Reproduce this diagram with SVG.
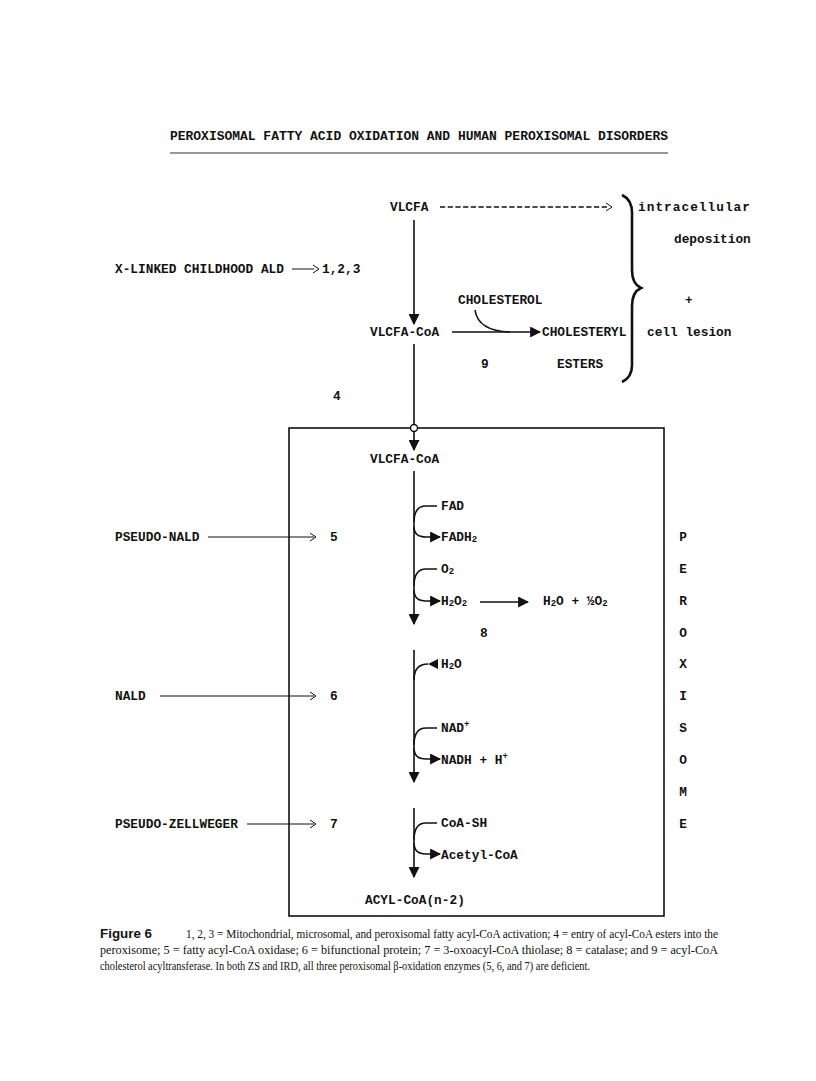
<svg xmlns="http://www.w3.org/2000/svg" width="816" height="1081" viewBox="0 0 816 1081">
<defs>
<style>
.t{font-family:"Liberation Mono","DejaVu Sans Mono",monospace;font-size:12.8px;font-weight:bold;fill:#111}
.sub{font-size:9px}
.ln{stroke:#111;stroke-width:1.6;fill:none}
.thin{stroke:#111;stroke-width:1;fill:none}
.cap{font-family:"Liberation Serif","Times New Roman",serif;font-size:11.8px;fill:#111}
.capb{font-family:"Liberation Sans",Arial,sans-serif;font-size:12.5px;font-weight:bold;fill:#111}
</style>
<marker id="ah" viewBox="0 0 10 10" refX="9" refY="5" markerWidth="11" markerHeight="11" markerUnits="userSpaceOnUse" orient="auto">
<path d="M0,0 L10,5 L0,10 Z" fill="#111"/>
</marker>
</defs>
<rect width="816" height="1081" fill="#fff"/>

<g id="title">
<text class="t" x="170" y="140" textLength="498" lengthAdjust="spacingAndGlyphs">PEROXISOMAL FATTY ACID OXIDATION AND HUMAN PEROXISOMAL DISORDERS</text>
<line x1="170" y1="153" x2="668" y2="153" stroke="#333" stroke-width="1.2"/>
</g>

<g id="vlcfa"><text class="t" x="390" y="211">VLCFA</text></g>
<g id="deposition">
<text class="t" x="638" y="211" textLength="112" lengthAdjust="spacing">intracellular</text>
<text class="t" x="674" y="243">deposition</text>
<text class="t" x="685" y="304">+</text>
<text class="t" x="647" y="336">cell lesion</text>
</g>
<g id="xald">
<text class="t" x="115" y="273">X-LINKED CHILDHOOD ALD</text>
<text class="t" x="322" y="273">1,2,3</text>
</g>
<g id="cholesterol"><text class="t" x="458" y="304">CHOLESTEROL</text></g>
<g id="vlcfacoa1"><text class="t" x="370" y="336">VLCFA-CoA</text></g>
<g id="cholesteryl">
<text class="t" x="542" y="336">CHOLESTERYL</text>
<text class="t" x="557" y="368">ESTERS</text>
</g>
<g id="lbl9"><text class="t" x="481" y="368">9</text></g>
<g id="lbl4"><text class="t" x="333" y="400">4</text></g>

<g id="peroxisome">
<rect x="289" y="428" width="375" height="488" fill="none" stroke="#111" stroke-width="1.6"/>
<g class="t" text-anchor="middle">
<text x="683" y="541">P</text><text x="683" y="573">E</text><text x="683" y="605">R</text>
<text x="683" y="637">O</text><text x="683" y="668">X</text><text x="683" y="700">I</text>
<text x="683" y="732">S</text><text x="683" y="764">O</text><text x="683" y="796">M</text>
<text x="683" y="828">E</text>
</g>
</g>
<g id="vlcfacoa2"><text class="t" x="370" y="463">VLCFA-CoA</text></g>
<g id="fad"><text class="t" x="441" y="510">FAD</text></g>
<g id="fadh2"><text class="t" x="441" y="541">FADH<tspan class="sub" dy="1">2</tspan></text></g>
<g id="o2"><text class="t" x="441" y="573">O<tspan class="sub" dy="1">2</tspan></text></g>
<g id="h2o2"><text class="t" x="441" y="605">H<tspan class="sub" dy="1">2</tspan><tspan dy="-1">O</tspan><tspan class="sub" dy="1">2</tspan></text></g>
<g id="h2o_o2"><text class="t" x="543" y="605">H<tspan class="sub" dy="1">2</tspan><tspan dy="-1">O + ½O</tspan><tspan class="sub" dy="1">2</tspan></text></g>
<g id="lbl8"><text class="t" x="480" y="637">8</text></g>
<g id="h2o"><text class="t" x="441" y="668">H<tspan class="sub" dy="1">2</tspan><tspan dy="-1">O</tspan></text></g>
<g id="nad"><text class="t" x="441" y="732">NAD<tspan class="sub" dy="-5">+</tspan></text></g>
<g id="nadh"><text class="t" x="441" y="764">NADH + H<tspan class="sub" dy="-5">+</tspan></text></g>
<g id="coash"><text class="t" x="441" y="827">CoA-SH</text></g>
<g id="acetylcoa"><text class="t" x="441" y="859">Acetyl-CoA</text></g>
<g id="acylcoa"><text class="t" x="365" y="904">ACYL-CoA(n-2)</text></g>

<g id="pseudonald"><text class="t" x="115" y="541">PSEUDO-NALD</text><text class="t" x="330" y="541">5</text></g>
<g id="nald"><text class="t" x="115" y="700">NALD</text><text class="t" x="330" y="700">6</text></g>
<g id="pseudozw"><text class="t" x="115" y="828">PSEUDO-ZELLWEGER</text><text class="t" x="330" y="828">7</text></g>

<g id="connectors">
<path class="ln" d="M440,207 L607,207" stroke-dasharray="5.2 2.5" stroke-width="1.3"/>
<path class="thin" d="M606,203 L612,207 L606,211" stroke-width="1.3"/>
<path d="M622,195 Q633,200 632,216 L632,270 Q632,284 641,288 Q632,292 632,306 L632,362 Q633,377 622,382" fill="none" stroke="#111" stroke-width="2.6"/>
<path class="thin" d="M292,269 L314,269"/>
<path class="thin" d="M313,265 L319,269 L313,273"/>
<path class="ln" d="M414,220 L414,324" marker-end="url(#ah)"/>
<path class="ln" d="M452,332 L540,332" marker-end="url(#ah)"/>
<path class="ln" d="M475,310 Q478,331 510,332"/>
<path class="ln" d="M414,344 L414,424"/>
<circle cx="414" cy="428" r="3.5" fill="#fff" stroke="#111" stroke-width="1.4"/>
<path class="ln" d="M414,432 L414,450" marker-end="url(#ah)"/>
<path class="ln" d="M414,471 L414,624" marker-end="url(#ah)"/>
<path class="ln" d="M414,522 Q414,506 426,506 L437,506"/>
<path class="ln" d="M414,527 Q414,537 426,537 L440,537" marker-end="url(#ah)"/>
<path class="ln" d="M414,586 Q414,569 426,569 L437,569"/>
<path class="ln" d="M414,590 Q414,601 426,601 L440,601" marker-end="url(#ah)"/>
<path class="ln" d="M480,602 L528,602" marker-end="url(#ah)"/>
<path class="ln" d="M414,650 L414,782" marker-end="url(#ah)"/>
<path class="ln" d="M414,680 Q414,664 428,664"/>
<path d="M438,659 L428,664 L438,669 Z" fill="#111"/>
<path class="ln" d="M414,745 Q414,728 426,728 L437,728"/>
<path class="ln" d="M414,748 Q414,759 426,759 L440,759" marker-end="url(#ah)"/>
<path class="ln" d="M414,808 L414,877" marker-end="url(#ah)"/>
<path class="ln" d="M414,840 Q414,823 426,823 L437,823"/>
<path class="ln" d="M414,843 Q414,854 426,854 L440,854" marker-end="url(#ah)"/>
<path class="thin" d="M208,537 L314,537"/>
<path class="thin" d="M310,533 L316,537 L310,541"/>
<path class="thin" d="M160,696 L314,696"/>
<path class="thin" d="M310,692 L316,696 L310,700"/>
<path class="thin" d="M247,824 L314,824"/>
<path class="thin" d="M310,820 L316,824 L310,828"/>
</g>

<g id="caption">
<text class="capb" x="100" y="938" textLength="52" lengthAdjust="spacingAndGlyphs">Figure 6</text>
<text class="cap" x="186" y="938" textLength="532" lengthAdjust="spacingAndGlyphs">1, 2, 3 = Mitochondrial, microsomal, and peroxisomal fatty acyl-CoA activation; 4 = entry of acyl-CoA esters into the</text>
<text class="cap" x="100" y="954" textLength="618" lengthAdjust="spacingAndGlyphs">peroxisome; 5 = fatty acyl-CoA oxidase; 6 = bifunctional protein; 7 = 3-oxoacyl-CoA thiolase; 8 = catalase; and 9 = acyl-CoA</text>
<text class="cap" x="100" y="970" textLength="490" lengthAdjust="spacingAndGlyphs">cholesterol acyltransferase. In both ZS and IRD, all three peroxisomal β-oxidation enzymes (5, 6, and 7) are deficient.</text>
</g>
</svg>
